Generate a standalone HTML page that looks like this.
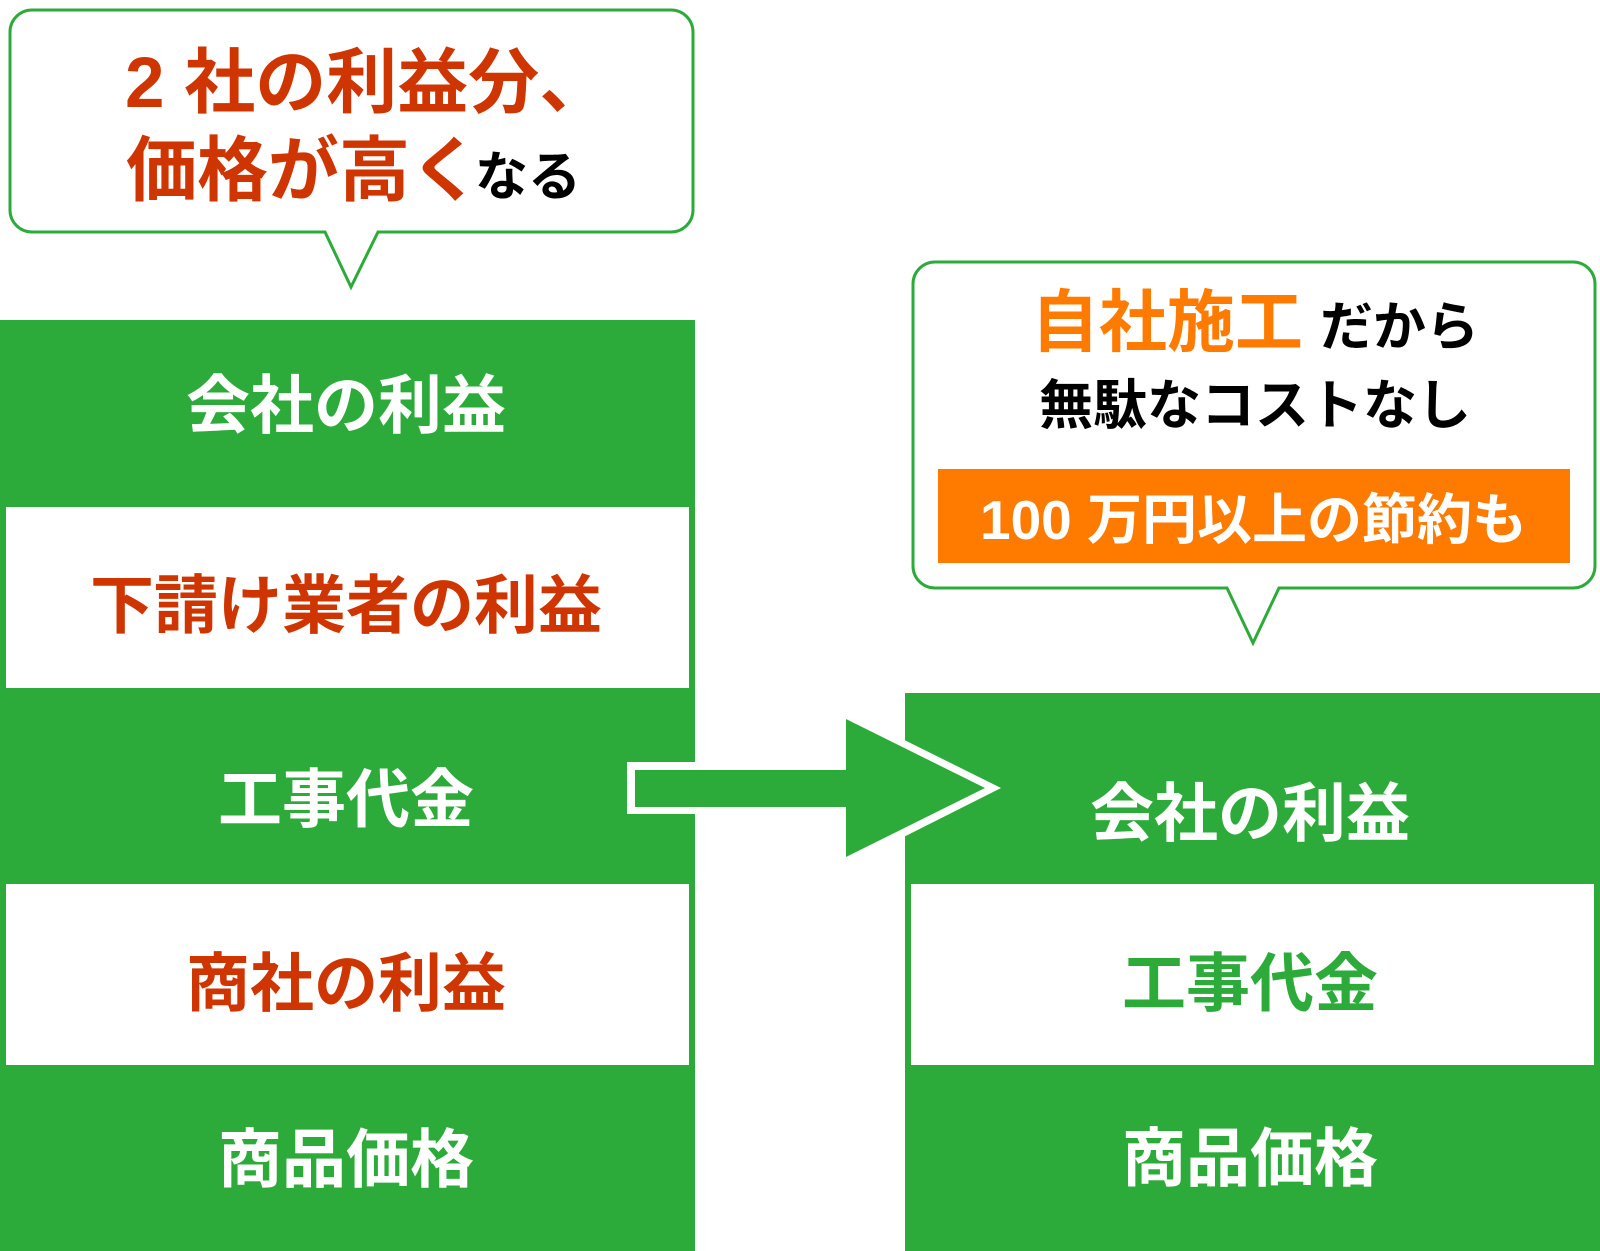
<!DOCTYPE html>
<html lang="ja">
<head>
<meta charset="utf-8">
<style>
  html, body { margin: 0; padding: 0; background: #ffffff; }
  body { width: 1600px; height: 1251px; overflow: hidden; }
  svg { display: block; }
  text { font-family: "Liberation Sans", "Noto Sans CJK JP", sans-serif; font-weight: 700; }
</style>
</head>
<body>
<svg width="1600" height="1251" viewBox="0 0 1600 1251" xmlns="http://www.w3.org/2000/svg">
  <rect x="0" y="0" width="1600" height="1251" fill="#ffffff"/>

  <!-- Left speech bubble -->
  <path d="M32,10 H671 A22,22 0 0 1 693,32 V210 A22,22 0 0 1 671,232 H378 L351,287 L325,232 H32 A22,22 0 0 1 10,210 V32 A22,22 0 0 1 32,10 Z"
        fill="#ffffff" stroke="#2dab3a" stroke-width="3" stroke-linejoin="miter"/>
  <text x="125" y="107" font-size="71" fill="#cf3500">2 社の利益分、</text>
  <text x="126" y="195" font-size="71" fill="#cf3500">価格が高く<tspan font-size="53" dx="-6" fill="#000000">なる</tspan></text>

  <!-- Left column -->
  <rect x="0" y="320" width="695" height="931" fill="#2dab3a"/>
  <rect x="6" y="507" width="683" height="181" fill="#ffffff"/>
  <rect x="6" y="884" width="683" height="181" fill="#ffffff"/>
  <text x="346" y="428" font-size="64" fill="#ffffff" text-anchor="middle">会社の利益</text>
  <text x="346" y="628" font-size="64" fill="#cf3500" text-anchor="middle">下請け業者の利益</text>
  <text x="346" y="822" font-size="64" fill="#ffffff" text-anchor="middle">工事代金</text>
  <text x="346" y="1006" font-size="64" fill="#cf3500" text-anchor="middle">商社の利益</text>
  <text x="346" y="1182" font-size="64" fill="#ffffff" text-anchor="middle">商品価格</text>

  <!-- Right column -->
  <rect x="905" y="693" width="695" height="558" fill="#2dab3a"/>
  <rect x="911" y="884" width="683" height="181" fill="#ffffff"/>
  <text x="1250" y="836" font-size="64" fill="#ffffff" text-anchor="middle">会社の利益</text>
  <text x="1250" y="1006" font-size="64" fill="#2dab3a" text-anchor="middle">工事代金</text>
  <text x="1250" y="1181" font-size="64" fill="#ffffff" text-anchor="middle">商品価格</text>

  <!-- Right speech bubble -->
  <path d="M935,262 H1573 A22,22 0 0 1 1595,284 V566 A22,22 0 0 1 1573,588 H1279 L1253,643 L1227,588 H935 A22,22 0 0 1 913,566 V284 A22,22 0 0 1 935,262 Z"
        fill="#ffffff" stroke="#2dab3a" stroke-width="3" stroke-linejoin="miter"/>
  <text x="1031" y="346" font-size="68" fill="#ff7b00">自社施工</text>
  <text x="1320" y="345" font-size="53" fill="#000000">だから</text>
  <text x="1039" y="424" font-size="54" fill="#000000">無駄なコストなし</text>
  <rect x="938" y="469" width="632" height="94" fill="#ff7b00"/>
  <text x="980" y="539" font-size="55" fill="#ffffff">100 万円以上の節約も</text>

  <!-- Arrow -->
  <polygon points="627,762 838,762 838,707 1001,788 838,870 838,814 627,814" fill="#ffffff"/>
  <polygon points="635,770 846,770 846,719 985,788 846,857 846,807 635,807" fill="#2dab3a"/>
</svg>
</body>
</html>
